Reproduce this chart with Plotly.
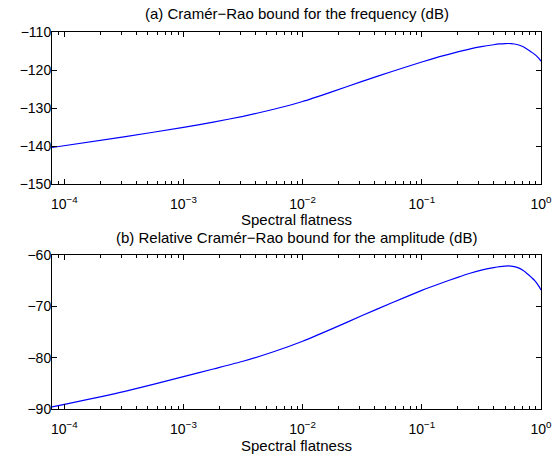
import plotly.graph_objects as go

# Spectral flatness (x) values
flatness = [7.9e-5, 3.16e-4, 1e-3, 1.78e-3, 3.16e-3, 5.62e-3, 1e-2, 1.78e-2, 3.16e-2, 5.62e-2,
            0.1, 0.141, 0.2, 0.25, 0.316, 0.4, 0.45, 0.5, 0.56, 0.63, 0.71, 0.79, 0.89, 0.955, 1.0]

# (a) Cramér-Rao bound for the frequency (dB)
crb_freq = [-140.4, -137.6, -135.1, -133.7, -132.2, -130.4, -128.3, -125.7, -123.0, -120.4,
            -117.9, -116.5, -115.25, -114.5, -113.85, -113.35, -113.15, -113.05, -113.05, -113.3,
            -113.9, -114.8, -115.95, -116.9, -117.7]

# (b) Relative Cramér-Rao bound for the amplitude (dB)
crb_amp = [-89.6, -86.6, -83.7, -82.2, -80.7, -78.9, -76.8, -74.35, -71.8, -69.3,
           -66.9, -65.6, -64.35, -63.6, -62.95, -62.45, -62.25, -62.15, -62.15, -62.4,
           -63.0, -63.9, -65.05, -66.0, -66.8]

xtick_vals = [1e-4, 1e-3, 1e-2, 1e-1, 1]
xtick_text = ["10<sup>\u22124</sup>", "10<sup>\u22123</sup>", "10<sup>\u22122</sup>",
              "10<sup>\u22121</sup>", "10<sup>0</sup>"]

title_a = "(a) Cramér\u2212Rao bound for the frequency (dB)"
title_b = "(b) Relative Cramér\u2212Rao bound for the amplitude (dB)"
xlabel = "Spectral flatness"

W, H = 560, 456
FONT = "Liberation Sans, Arial, Helvetica, sans-serif"

fig = go.Figure()
for ydata, xa, ya in [(crb_freq, "x", "y"), (crb_amp, "x2", "y2")]:
    fig.add_trace(go.Scatter(x=flatness, y=ydata, mode="lines",
                             line=dict(color="#0000ff", width=1.2, shape="spline", smoothing=0.5),
                             xaxis=xa, yaxis=ya, showlegend=False, hoverinfo="x+y"))

xdom = [52 / W, 541 / W]
ydom_top = [(H - 184) / H, (H - 32) / H]
ydom_bot = [(H - 409) / H, (H - 255) / H]

def xaxis_cfg(anchor):
    return dict(type="log", range=[-4.103, 0], domain=xdom, anchor=anchor, automargin=False,
                showline=True, linecolor="black", linewidth=1, mirror="ticks",
                ticks="inside", ticklen=5, tickcolor="black",
                tickvals=xtick_vals, ticktext=xtick_text, ticklabelstandoff=7,
                showgrid=False, zeroline=False,
                tickfont=dict(family=FONT, size=14, color="black"),
                minor=dict(ticks="inside", ticklen=3, tickcolor="black", showgrid=False,
                           dtick="D1"))

def yaxis_cfg(anchor, dom, rng):
    return dict(range=rng, domain=dom, anchor=anchor, automargin=False,
                showline=True, linecolor="black", linewidth=1, mirror="ticks",
                ticks="inside", ticklen=5, tickcolor="black", dtick=10,
                ticklabelstandoff=-3,
                showgrid=False, zeroline=False,
                tickfont=dict(family=FONT, size=14, color="black"))

fig.update_layout(
    width=W, height=H,
    margin=dict(l=0, r=0, t=0, b=0, autoexpand=False),
    paper_bgcolor="white", plot_bgcolor="white",
    xaxis=xaxis_cfg("y"),
    yaxis=yaxis_cfg("x", ydom_top, [-150, -110]),
    xaxis2=xaxis_cfg("y2"),
    yaxis2=yaxis_cfg("x2", ydom_bot, [-90, -60]),
    font=dict(family=FONT, size=14, color="black"),
)

cx = 296.5 / W
for text, ypix in [(title_a, 14), (xlabel, 219), (title_b, 238), (xlabel, 445)]:
    fig.add_annotation(text=text, xref="paper", yref="paper", x=cx, y=(H - ypix) / H,
                       xanchor="center", yanchor="middle", showarrow=False,
                       font=dict(family=FONT, size=15, color="black"))

fig.write_html("out.html", config={"displayModeBar": False},
               post_script="document.body.style.margin='0';")
